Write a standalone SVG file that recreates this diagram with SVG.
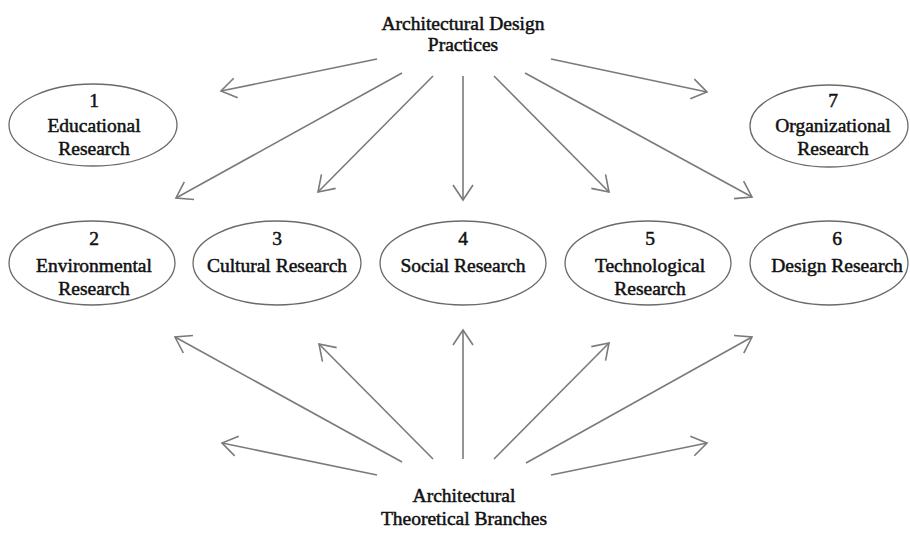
<svg xmlns="http://www.w3.org/2000/svg" width="910" height="533" viewBox="0 0 910 533">
<style>
.t{font-family:"Liberation Serif","Times New Roman",serif;font-size:19.5px;fill:#111;stroke:#111;stroke-width:0.5;text-anchor:middle}
.e{fill:#fff;stroke:#6a6a6a;stroke-width:1.3}
.c{stroke:#7a7a7a;stroke-width:1.6;fill:none;marker-end:url(#ah)}
</style>
<defs>
<marker id="ah" markerUnits="userSpaceOnUse" markerWidth="40" markerHeight="40" viewBox="-20 -20 40 40" refX="0" refY="0" orient="auto">
<path d="M-15,-10 L0,0 L-15,10" fill="none" stroke="#7a7a7a" stroke-width="1.6"/>
</marker>
</defs>
<rect width="910" height="533" fill="#fff"/>
<g id="top-label">
<text class="t" x="463" y="30">Architectural Design</text>
<text class="t" x="463" y="51">Practices</text>
</g>
<g id="bottom-label">
<text class="t" x="464" y="502">Architectural</text>
<text class="t" x="464" y="525">Theoretical Branches</text>
</g>
<g id="n1">
<ellipse class="e" cx="93" cy="125" rx="84" ry="41"/>
<text class="t" x="94" y="107">1</text>
<text class="t" x="94" y="132">Educational</text>
<text class="t" x="94" y="155">Research</text>
</g>
<g id="n7">
<ellipse class="e" cx="829" cy="126" rx="79" ry="41"/>
<text class="t" x="833" y="107">7</text>
<text class="t" x="833" y="132">Organizational</text>
<text class="t" x="833" y="155">Research</text>
</g>
<g id="n2">
<ellipse class="e" cx="92" cy="263" rx="83" ry="42"/>
<text class="t" x="94" y="245">2</text>
<text class="t" x="94" y="272">Environmental</text>
<text class="t" x="94" y="295">Research</text>
</g>
<g id="n3">
<ellipse class="e" cx="277" cy="263" rx="84" ry="42"/>
<text class="t" x="277" y="245">3</text>
<text class="t" x="277" y="272">Cultural Research</text>
</g>
<g id="n4">
<ellipse class="e" cx="463" cy="263" rx="83" ry="42"/>
<text class="t" x="463" y="245">4</text>
<text class="t" x="463" y="272">Social Research</text>
</g>
<g id="n5">
<ellipse class="e" cx="648" cy="263" rx="83" ry="42"/>
<text class="t" x="650" y="245">5</text>
<text class="t" x="650" y="272">Technological</text>
<text class="t" x="650" y="295">Research</text>
</g>
<g id="n6">
<ellipse class="e" cx="829" cy="263" rx="79" ry="42"/>
<text class="t" x="837" y="245">6</text>
<text class="t" x="837" y="272">Design Research</text>
</g>
<g id="connectors">
<line class="c" x1="377" y1="59" x2="221" y2="91"/>
<line class="c" x1="402" y1="73" x2="176" y2="198"/>
<line class="c" x1="433" y1="76" x2="318" y2="192"/>
<line class="c" x1="463" y1="76" x2="463" y2="200"/>
<line class="c" x1="494" y1="76" x2="609" y2="192"/>
<line class="c" x1="525" y1="73" x2="752" y2="197"/>
<line class="c" x1="551" y1="59" x2="707" y2="92"/>
<line class="c" x1="402" y1="462" x2="175" y2="337"/>
<line class="c" x1="433" y1="459" x2="319" y2="344"/>
<line class="c" x1="463" y1="459" x2="463" y2="330"/>
<line class="c" x1="494" y1="459" x2="609" y2="343"/>
<line class="c" x1="526" y1="463" x2="752" y2="337"/>
<line class="c" x1="377" y1="475" x2="222" y2="443"/>
<line class="c" x1="551" y1="475" x2="707" y2="443"/>
</g>
</svg>
